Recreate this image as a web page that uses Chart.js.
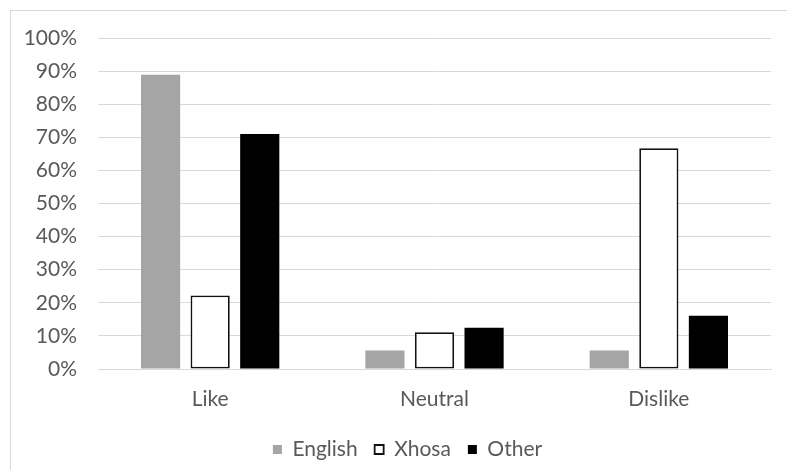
<!DOCTYPE html>
<html>
<head>
<meta charset="utf-8">
<script src="https://cdn.jsdelivr.net/npm/chart.js@4"></script>
<style>
  html, body { margin: 0; padding: 0; background: #ffffff; }
  #wrap { position: relative; width: 787px; height: 470px; overflow: hidden; }
  #frame { position: absolute; left: 10px; top: 10px; width: 800px; height: 500px; border: 1px solid #d9d9d9; }
  #c { position: absolute; left: 0; top: 0; }
</style>
</head>
<body>
<div id="wrap">
  <div id="frame"></div>
  <canvas id="c" width="787" height="470"></canvas>
</div>
<script>
// Attitude categories on the x axis
const categories = ['Like', 'Neutral', 'Dislike'];

// Share of respondents (%) per home language
const english = [88.9, 5.6, 5.6];
const xhosa = [22.2, 11.1, 66.7];
const other = [71.0, 12.5, 16.1];

// Y-axis ticks (%)
const yTicks = [0, 10, 20, 30, 40, 50, 60, 70, 80, 90, 100];

const FONT = 'Lato, "Liberation Sans", sans-serif';
const TEXT = '#595959';
const GRID = '#d9d9d9';

// Centre the legend roughly under the plot area rather than the whole canvas
const legendUnderPlot = {
  id: 'legendUnderPlot',
  afterLayout(chart) {
    const lg = chart.legend;
    if (!lg) return;
    const shift = (chart.chartArea.left + chart.chartArea.right) / 2 - (lg.left + lg.right) / 2 - 27;
    lg.left += shift;
    lg.right += shift;
  }
};

new Chart(document.getElementById('c'), {
  type: 'bar',
  data: {
    labels: categories,
    datasets: [
      { label: 'English', data: english, backgroundColor: '#a5a5a5', borderWidth: 0 },
      { label: 'Xhosa', data: xhosa, backgroundColor: '#ffffff', borderColor: '#111111', borderWidth: 1.8, borderSkipped: false },
      { label: 'Other', data: other, backgroundColor: '#000000', borderWidth: 0 }
    ]
  },
  plugins: [legendUnderPlot],
  options: {
    responsive: false,
    devicePixelRatio: 1,
    animation: false,
    layout: { padding: { top: 38, right: 16, bottom: 0, left: 0 } },
    datasets: { bar: { categoryPercentage: 0.663, barPercentage: 0.79 } },
    scales: {
      x: {
        grid: { display: false, drawTicks: false },
        border: { color: GRID, width: 1 },
        afterFit: (axis) => { axis.height = 53; },
        ticks: { color: TEXT, font: { family: FONT, size: 21 }, padding: 18 }
      },
      y: {
        min: 0,
        max: 100,
        afterBuildTicks: (axis) => { axis.ticks = yTicks.map(v => ({ value: v })); },
        afterFit: (axis) => { axis.width = 98; },
        grid: { color: GRID, lineWidth: 1, drawTicks: false },
        border: { display: false },
        ticks: {
          color: TEXT,
          font: { family: FONT, size: 21 },
          padding: 21,
          callback: (v) => v + '%'
        }
      }
    },
    plugins: {
      legend: {
        position: 'bottom',
        labels: {
          color: TEXT,
          font: { family: FONT, size: 21 },
          boxWidth: 9,
          boxHeight: 9,
          padding: 17,
          useBorderRadius: false
        }
      },
      tooltip: { enabled: false }
    }
  }
});
</script>
</body>
</html>
